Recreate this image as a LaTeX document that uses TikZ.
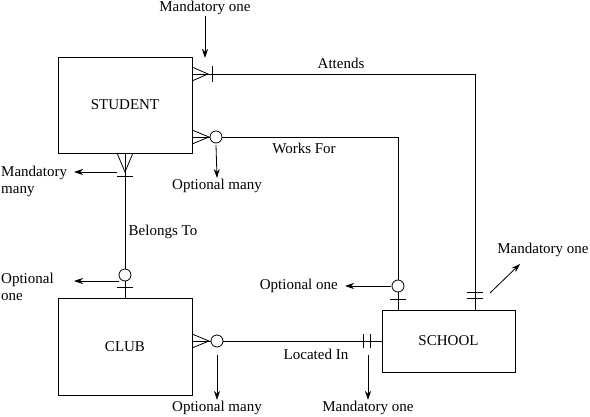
\documentclass[tikz,border=0pt]{standalone}
\usepackage{fontspec}
\setmainfont{Liberation Serif}
\usetikzlibrary{arrows.meta}
\tikzset{
  entity/.style={draw,line width=0.8pt,minimum width=134pt,inner sep=0pt,font=\fontsize{15}{17}\selectfont},
  rel/.style={line width=0.8pt},
  note/.style={line width=0.8pt,-{Stealth[length=9pt,width=6pt]}},
  txt/.style={font=\fontsize{15}{17}\selectfont,inner sep=1pt}
}
\begin{document}
\begin{tikzpicture}[x=1pt,y=-1pt]
\useasboundingbox (0,0) rectangle (590,417);
% entities
\node[entity,minimum height=96pt] (student) at (125,105) {STUDENT};
\node[entity,minimum height=97pt] (club) at (125,346.5) {CLUB};
\node[entity,minimum width=133pt,minimum height=62pt] (school) at (448.5,341) {SCHOOL};
% relationships
\draw[rel] ([yshift=31pt]student.east) -| ([xshift=26.5pt]school.north);
\draw[rel] ([yshift=-32pt]student.east) -| ([xshift=-50.5pt]school.north);
\draw[rel] (student.south) -- (club.north);
\draw[rel] ([yshift=5.5pt]club.east) -- (school.west);
\node[txt] (attends) at (341,63) {Attends};
\node[txt] (worksfor) at (304,148) {Works For};
\node[txt] (belongs) at (163,232) {Belongs To};
\node[txt] (located) at (316,354) {Located In};
% cardinality marks
\draw[rel] (192,67) -- (208,74) -- (192,81);
\draw[rel] (212,66) -- (212,82);
\draw[rel] (192,130) -- (209,137) -- (192,144);
\draw[rel,fill=white] (216,137) circle[radius=6];
\draw[rel] (117,153) -- (125,172) -- (133,153);
\draw[rel] (117,176) -- (133,176);
\draw[rel,fill=white] (125,275) circle[radius=6];
\draw[rel] (117,287) -- (133,287);
\draw[rel] (192,334) -- (209,341) -- (192,348);
\draw[rel,fill=white] (217,341) circle[radius=6];
\draw[rel] (363,334) -- (363,348);
\draw[rel] (370,334) -- (370,348);
\draw[rel,fill=white] (398,286) circle[radius=6];
\draw[rel] (390,299) -- (406,299);
\draw[rel] (467,292) -- (483,292);
\draw[rel] (467,298) -- (483,298);
% notes
\coordinate (m1) at (205,58);
\coordinate (o1) at (216,145);
\coordinate (m2) at (117,172);
\coordinate (o2) at (119,281);
\coordinate (o3) at (391,286);
\coordinate (m3) at (490,293);
\coordinate (o4) at (217,355);
\coordinate (m4) at (368,355);
\node[txt] (mandone) at (205,8) {Mandatory one};
\draw[note] (mandone.south) -- (m1);
\node[txt] (optmany) at (217,186) {Optional many};
\draw[note] (o1) -- (optmany.north);
\node[txt,align=left,anchor=west] (mandmany) at (0,181.5) {Mandatory\\many};
\draw[note] (m2) -- (74,172);
\node[txt,align=left,anchor=west] (optone) at (0,286.5) {Optional\\one};
\draw[note] (o2) -- (74,281);
\node[txt,anchor=east] (optone2) at (339,286) {Optional one};
\draw[note] (o3) -- ([xshift=6pt]optone2.east);
\node[txt] (mandone2) at (543,250) {Mandatory one};
\draw[note] (m3) -- (520,264);
\node[txt] (optmany2) at (217,408) {Optional many};
\draw[note] (o4) -- (optmany2.north);
\node[txt] (mandone3) at (368,408) {Mandatory one};
\draw[note] (m4) -- (mandone3.north);
\end{tikzpicture}
\end{document}
